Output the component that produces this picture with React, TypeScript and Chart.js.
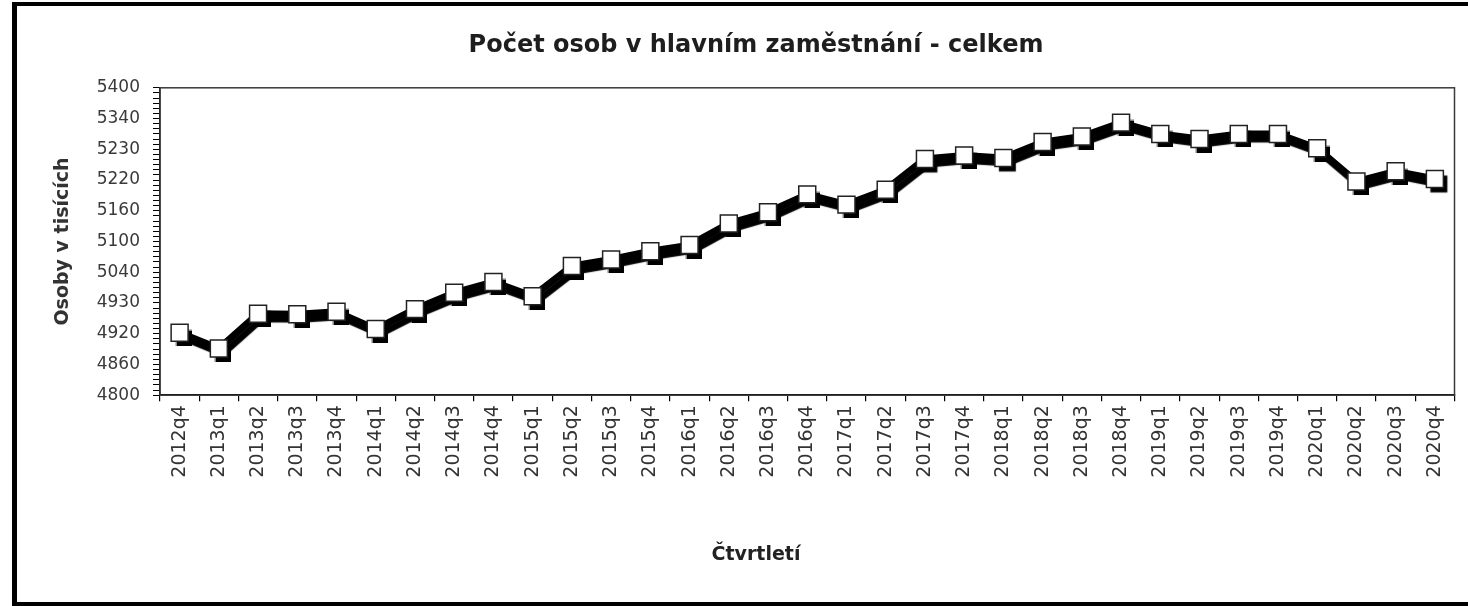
import React, { useEffect, useRef } from 'react';
import { Chart, registerables } from 'chart.js';

Chart.register(...registerables);

const quarters = [
  '2012q4',
  '2013q1', '2013q2', '2013q3', '2013q4',
  '2014q1', '2014q2', '2014q3', '2014q4',
  '2015q1', '2015q2', '2015q3', '2015q4',
  '2016q1', '2016q2', '2016q3', '2016q4',
  '2017q1', '2017q2', '2017q3', '2017q4',
  '2018q1', '2018q2', '2018q3', '2018q4',
  '2019q1', '2019q2', '2019q3', '2019q4',
  '2020q1', '2020q2', '2020q3', '2020q4',
];

const persons = [
  4922,
  4891, 4959, 4958, 4963,
  4929, 4968, 5000, 5021,
  4993, 5052, 5065, 5081,
  5093, 5135, 5157, 5192,
  5172, 5201, 5261, 5268,
  5263, 5294, 5305, 5332,
  5310, 5300, 5310, 5310,
  5282, 5217, 5237, 5222,
];

const yTickValues = [4800, 4860, 4920, 4980, 5040, 5100, 5160, 5220, 5280, 5340, 5400];
const yTickLabels = ['4800', '4860', '4920', '4930', '5040', '5100', '5160', '5220', '5230', '5340', '5400'];

const chartTitle = 'Počet osob v hlavním zaměstnání - celkem';
const xTitle = 'Čtvrtletí';
const yTitle = 'Osoby v tisících';

const FONT = "'DejaVu Sans', 'Liberation Sans', Arial, sans-serif";

const plotFramePlugin = {
  id: 'plotFrame',
  beforeDatasetsDraw(chart: any) {
    const { ctx, chartArea } = chart;
    ctx.save();
    ctx.strokeStyle = '#3a3a3a';
    ctx.lineWidth = 1.5;
    ctx.strokeRect(chartArea.left, chartArea.top, chartArea.right - chartArea.left, chartArea.bottom - chartArea.top);
    ctx.restore();
  },
};

// drop shadow only under the line dataset (index 0)
const shadowPlugin = {
  id: 'dropShadow',
  beforeDatasetDraw(chart: any, args: any) {
    if (args.index !== 0) return;
    const ctx = chart.ctx;
    ctx.save();
    ctx.shadowColor = '#000';
    ctx.shadowOffsetX = 4;
    ctx.shadowOffsetY = 5;
    ctx.shadowBlur = 1;
  },
  afterDatasetDraw(chart: any, args: any) {
    if (args.index !== 0) return;
    chart.ctx.restore();
  },
};

export default function App() {
  const canvasRef = useRef<HTMLCanvasElement | null>(null);

  useEffect(() => {
    if (!canvasRef.current) return;
    const chart = new Chart(canvasRef.current, {
      type: 'line',
      data: {
        labels: quarters,
        datasets: [
          {
            label: yTitle,
            data: persons,
            order: 2,
            borderColor: '#000',
            borderWidth: 7,
            pointStyle: 'rect',
            pointRadius: 12,
            pointBorderWidth: 0,
            pointBackgroundColor: '#fff',
            tension: 0,
            fill: false,
          },
          {
            label: yTitle + ' (body)',
            data: persons,
            order: 1,
            showLine: false,
            pointStyle: 'rect',
            pointRadius: 12,
            pointBorderWidth: 1.5,
            pointBackgroundColor: '#fff',
            pointBorderColor: '#222',
          },
        ],
      },
      options: {
        responsive: false,
        animation: false,
        events: [],
        layout: { padding: { left: 52, right: 8, top: 0, bottom: 0 } },
        plugins: {
          legend: { display: false },
          tooltip: { enabled: false },
          title: {
            display: true,
            text: chartTitle,
            color: '#1e1e1e',
            font: { family: FONT, size: 24, weight: 'bold' },
            padding: { top: 31, bottom: 28 },
          },
          subtitle: {
            display: true,
            position: 'bottom',
            text: xTitle,
            color: '#222',
            font: { family: FONT, size: 19, weight: 'bold' },
            padding: { top: 0, bottom: 40 },
          },
        },
        scales: {
          x: {
            type: 'category',
            offset: true,
            grid: {
              display: true,
              offset: true,
              drawOnChartArea: false,
              drawTicks: true,
              tickLength: 6,
              color: '#000',
              lineWidth: 1.2,
            },
            border: { display: true, color: '#000', width: 1.5 },
            ticks: {
              autoSkip: false,
              maxRotation: 90,
              minRotation: 90,
              padding: 4,
              color: '#333',
              font: { family: FONT, size: 19 },
            },
            afterFit: (scale: any) => {
              scale.height = 148;
            },
          },
          y: {
            type: 'linear',
            min: 4800,
            max: 5400,
            grid: {
              display: true,
              drawOnChartArea: false,
              drawTicks: true,
              tickLength: 7,
              color: '#000',
              lineWidth: 1,
            },
            border: { display: true, color: '#000', width: 1.5 },
            ticks: {
              stepSize: 10,
              maxTicksLimit: 100,
              autoSkip: false,
              padding: 13,
              color: '#3a3a3a',
              font: { family: FONT, size: 17 },
              callback: (value: any) => {
                const i = yTickValues.indexOf(Number(value));
                return i >= 0 ? yTickLabels[i] : '';
              },
            },
            title: {
              display: true,
              text: yTitle,
              color: '#333',
              font: { family: FONT, size: 19, weight: 'bold' },
              padding: { top: 0, bottom: 0 },
            },
            afterFit: (scale: any) => {
              scale.width = 108;
            },
          },
        },
      },
      plugins: [plotFramePlugin, shadowPlugin],
    });
    return () => chart.destroy();
  }, []);

  return (
    <div
      style={{
        position: 'absolute',
        left: 0,
        top: 0,
        width: 1468,
        height: 606,
        overflow: 'hidden',
        background: '#fff',
      }}
    >
      <div
        style={{
          position: 'absolute',
          left: 12,
          top: 2,
          width: 1520,
          height: 604,
          borderStyle: 'solid',
          borderColor: '#000',
          borderWidth: '4px 5px 4px 5px',
          boxSizing: 'border-box',
        }}
      />
      <canvas
        ref={canvasRef}
        width={1468}
        height={606}
        style={{ position: 'absolute', left: 0, top: 0, width: 1468, height: 606 }}
      />
    </div>
  );
}
